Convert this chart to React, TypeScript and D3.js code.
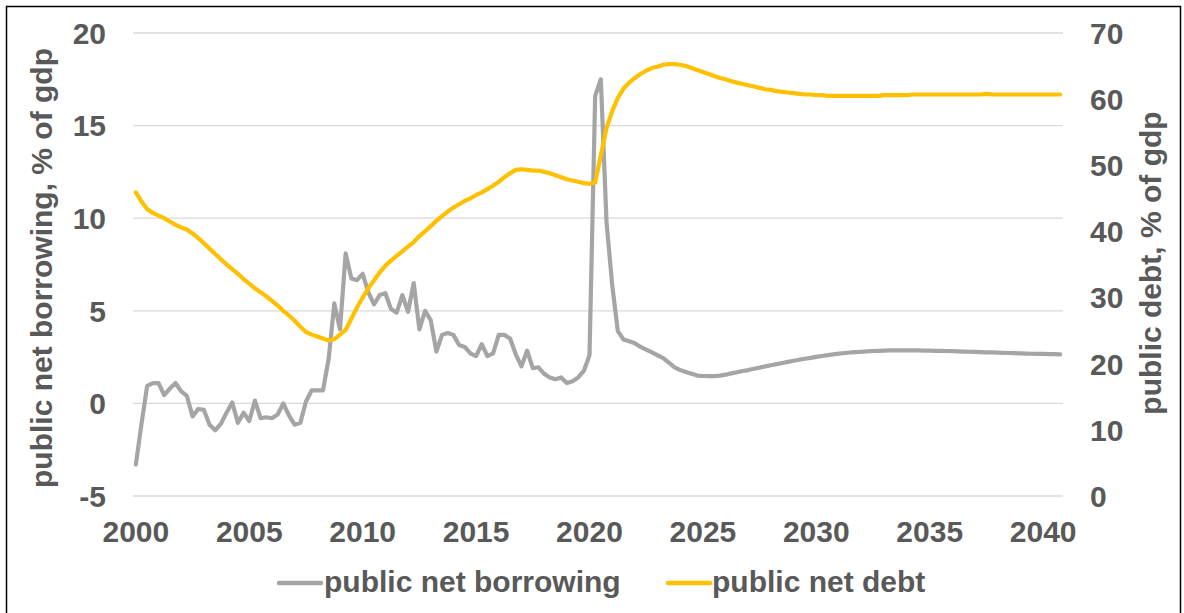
import React from "react";
import * as d3 from "d3";

// Quarterly data, 2000Q1 .. 2040Q4 (164 quarters)
const borrowing: number[] = [
  -3.3, -1.1, 0.95, 1.1, 1.1, 0.45, 0.8, 1.1, 0.65, 0.4,
  -0.7, -0.3, -0.35, -1.15, -1.45, -1.1, -0.5, 0.05, -1.05, -0.5,
  -0.95, 0.15, -0.8, -0.75, -0.8, -0.6, 0.0, -0.65, -1.15, -1.05,
  0.1, 0.7, 0.7, 0.7, 2.4, 5.4, 4.0, 8.1, 6.75, 6.65,
  7.0, 6.0, 5.35, 5.85, 5.95, 5.1, 4.9, 5.85, 4.95, 6.5,
  4.0, 5.0, 4.5, 2.8, 3.7, 3.8, 3.7, 3.15, 3.05, 2.7,
  2.55, 3.2, 2.55, 2.7, 3.7, 3.7, 3.5, 2.65, 2.0, 2.85,
  1.9, 1.95, 1.6, 1.4, 1.3, 1.4, 1.1, 1.2, 1.4, 1.75,
  2.6, 16.6, 17.5, 9.8, 6.4, 3.9, 3.45, 3.35, 3.25, 3.05,
  2.9, 2.75, 2.6, 2.45, 2.2, 1.95, 1.8, 1.7, 1.6, 1.5,
  1.48, 1.47, 1.47, 1.5, 1.55, 1.62, 1.68, 1.75, 1.8, 1.87,
  1.93, 2.0, 2.06, 2.12, 2.18, 2.24, 2.3, 2.36, 2.41, 2.46,
  2.51, 2.56, 2.61, 2.65, 2.69, 2.72, 2.75, 2.77, 2.79, 2.81,
  2.83, 2.84, 2.85, 2.86, 2.86, 2.86, 2.86, 2.86, 2.86, 2.85,
  2.85, 2.84, 2.84, 2.83, 2.82, 2.81, 2.8, 2.79, 2.78, 2.77,
  2.76, 2.75, 2.74, 2.73, 2.72, 2.71, 2.7, 2.69, 2.68, 2.67,
  2.67, 2.66, 2.66, 2.65,
];

const debt: number[] = [
  45.9, 44.5, 43.4, 42.8, 42.4, 42.0, 41.5, 41.0, 40.6, 40.3,
  39.7, 39.0, 38.2, 37.4, 36.6, 35.8, 35.0, 34.3, 33.6, 32.8,
  32.1, 31.4, 30.8, 30.2, 29.5, 28.8, 28.0, 27.3, 26.5, 25.6,
  24.8, 24.4, 24.1, 23.8, 23.5, 23.7, 24.4, 25.1, 26.8, 28.5,
  30.0, 31.4, 32.6, 33.8, 34.8, 35.6, 36.3, 37.0, 37.7, 38.4,
  39.3, 40.0, 40.8, 41.6, 42.3, 43.0, 43.6, 44.1, 44.6, 45.0,
  45.5, 45.9, 46.4, 46.9, 47.5, 48.2, 48.8, 49.3, 49.4, 49.3,
  49.2, 49.2, 49.0, 48.8, 48.5, 48.2, 47.9, 47.7, 47.5, 47.3,
  47.2, 47.4, 51.5, 55.6, 58.2, 60.2, 61.6, 62.5, 63.2, 63.8,
  64.3, 64.7, 64.9, 65.2, 65.3, 65.3, 65.2, 65.0, 64.7, 64.4,
  64.1, 63.8, 63.5, 63.2, 63.0, 62.7, 62.5, 62.3, 62.1, 61.9,
  61.7, 61.5, 61.4, 61.2, 61.1, 61.0, 60.9, 60.8, 60.7, 60.7,
  60.6, 60.6, 60.5, 60.5, 60.5, 60.5, 60.5, 60.5, 60.5, 60.5,
  60.5, 60.5, 60.6, 60.6, 60.6, 60.6, 60.6, 60.7, 60.7, 60.7,
  60.7, 60.7, 60.7, 60.7, 60.7, 60.7, 60.7, 60.7, 60.7, 60.7,
  60.8, 60.7, 60.7, 60.7, 60.7, 60.7, 60.7, 60.7, 60.7, 60.7,
  60.7, 60.7, 60.7, 60.7,
];

const yearLabels: string[] = ["2000", "2005", "2010", "2015", "2020", "2025", "2030", "2035", "2040"];
const leftTicks: number[] = [-5, 0, 5, 10, 15, 20];
const rightTicks: number[] = [0, 10, 20, 30, 40, 50, 60, 70];
const seriesNames: string[] = ["public net borrowing", "public net debt"];
const leftTitle = "public net borrowing, % of gdp";
const rightTitle = "public debt, % of gdp";

const W = 1184;
const H = 613;
const FONT = "'Liberation Sans', Arial, Helvetica, sans-serif";
const TEXT = "#595959";
const GRAY = "#A5A5A5";
const GOLD = "#FFC000";

export default function App() {
  const plotLeft = 133;
  const plotRight = 1063;
  const plotTop = 33;
  const plotBottom = 496;

  const n = borrowing.length;
  const x = d3.scaleLinear().domain([0, n]).range([plotLeft, plotRight]);
  const yL = d3.scaleLinear().domain([-5, 20]).range([plotBottom, plotTop]);
  const yR = d3.scaleLinear().domain([0, 70]).range([plotBottom, plotTop]);

  const lineL = d3
    .line<number>()
    .x((_, i) => x(i + 0.5))
    .y((d) => yL(d));
  const lineR = d3
    .line<number>()
    .x((_, i) => x(i + 0.5))
    .y((d) => yR(d));

  const fs = 30;

  return (
    <svg
      width={W}
      height={H}
      style={{ position: "absolute", left: 0, top: 0, background: "#fff" }}
      fontFamily={FONT}
    >
      <rect x={0} y={0} width={W} height={H} fill="#fff" />
      <rect x={6.5} y={6.5} width={1174} height={700} fill="none" stroke="#000" strokeWidth={1.5} />

      {leftTicks.map((t) => (
        <line
          key={"g" + t}
          x1={plotLeft}
          x2={plotRight}
          y1={yL(t)}
          y2={yL(t)}
          stroke="#D9D9D9"
          strokeWidth={1.3}
        />
      ))}

      {leftTicks.map((t) => (
        <text
          key={"l" + t}
          x={106}
          y={yL(t)}
          dy="0.36em"
          textAnchor="end"
          fontSize={fs}
          fontWeight="bold"
          fill={TEXT}
        >
          {t}
        </text>
      ))}

      {rightTicks.map((t) => (
        <text
          key={"r" + t}
          x={1090}
          y={yR(t)}
          dy="0.36em"
          textAnchor="start"
          fontSize={fs}
          fontWeight="bold"
          fill={TEXT}
        >
          {t}
        </text>
      ))}

      {yearLabels.map((lab, k) => (
        <text
          key={"x" + lab}
          x={x(k * 20 + 0.5)}
          y={542}
          textAnchor="middle"
          fontSize={fs}
          fontWeight="bold"
          fill={TEXT}
        >
          {lab}
        </text>
      ))}

      <text
        transform={`translate(44,268) rotate(-90)`}
        textAnchor="middle"
        dy="0.26em"
        fontSize={fs}
        fontWeight="bold"
        fill={TEXT}
      >
        {leftTitle}
      </text>
      <text
        transform={`translate(1153,263) rotate(-90)`}
        textAnchor="middle"
        dy="0.26em"
        fontSize={fs}
        fontWeight="bold"
        fill={TEXT}
      >
        {rightTitle}
      </text>

      <path d={lineL(borrowing) || ""} fill="none" stroke={GRAY} strokeWidth={4.2} strokeLinejoin="round" strokeLinecap="round" />
      <path d={lineR(debt) || ""} fill="none" stroke={GOLD} strokeWidth={4.2} strokeLinejoin="round" strokeLinecap="round" />

      {/* legend */}
      <line x1={279} x2={321} y1={583} y2={583} stroke={GRAY} strokeWidth={4.5} strokeLinecap="round" />
      <text x={324} y={592} fontSize={fs} fontWeight="bold" fill={TEXT}>
        {seriesNames[0]}
      </text>
      <line x1={668} x2={710} y1={583} y2={583} stroke={GOLD} strokeWidth={4.5} strokeLinecap="round" />
      <text x={712} y={592} fontSize={fs} fontWeight="bold" fill={TEXT}>
        {seriesNames[1]}
      </text>
    </svg>
  );
}
